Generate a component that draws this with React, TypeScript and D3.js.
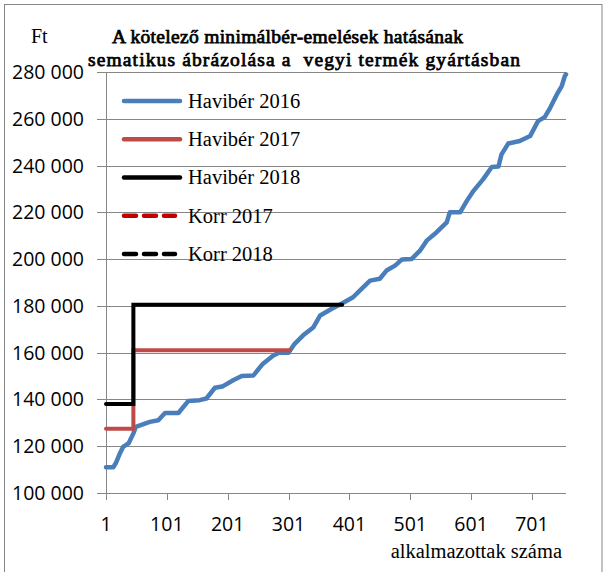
import React from 'react';
import * as d3 from 'd3';

// Havibér 2016: employees sorted by monthly wage (index, Ft)
const employeeIdx = [1, 13, 17, 24, 29, 38, 46, 50, 73, 87, 98, 120, 136, 155, 166, 180, 192, 210, 224, 243, 259, 276, 285, 301, 311, 325, 342, 353, 372, 388, 407, 421, 435, 451, 462, 476, 487, 503, 517, 528, 544, 561, 566, 583, 594, 605, 621, 635, 646, 651, 662, 681, 698, 711, 722, 731, 742, 750, 755, 757];
const wage2016 = [111000, 111000, 112700, 117000, 119700, 121200, 125500, 128300, 130400, 131100, 134200, 134200, 139300, 139700, 140400, 145000, 145500, 148200, 150000, 150200, 155300, 158800, 160000, 160000, 163800, 167400, 170900, 175900, 178800, 180900, 183700, 187300, 190800, 191600, 195100, 197200, 199800, 200000, 203600, 207900, 211400, 215700, 220000, 220000, 224900, 229200, 234200, 239400, 239600, 244800, 249400, 250500, 252600, 259000, 260700, 264700, 270400, 274000, 278200, 279000];

// Havibér 2017 / 2018 step lines
const havi2017Idx = [1, 46, 46, 303];
const havi2017Val = [127500, 127500, 161000, 161000];
const havi2018Idx = [1, 46, 46, 389];
const havi2018Val = [138000, 138000, 180500, 180500];

const employeeCount = 757;
const yTicks = [100000, 120000, 140000, 160000, 180000, 200000, 220000, 240000, 260000, 280000];
const xTicks = [1, 101, 201, 301, 401, 501, 601, 701];

const legendLabels = ['Havibér 2016', 'Havibér 2017', 'Havibér 2018', 'Korr 2017', 'Korr 2018'];
const legendColors = ['#4A7EBB', '#BE4B48', '#000000', '#C00000', '#000000'];
const legendDashed = [false, false, false, true, true];

const titleLine1 = 'A kötelező minimálbér-emelések hatásának';
const titleLine2 = 'sematikus ábrázolása a  vegyi termék gyártásban';
const yUnit = 'Ft';
const xTitle = 'alkalmazottak száma';

export default function App() {
  const W = 604, H = 572;
  const x = d3.scaleLinear().domain([1, employeeCount]).range([106, 566]);
  const y = d3.scaleLinear().domain([100000, 280000]).range([493, 72]);
  const line = d3.line<[number, number]>().x(d => x(d[0])).y(d => y(d[1]));
  const fmt = (v: number) => d3.format(',')(v).replace(/,/g, ' ');

  const blue = line(employeeIdx.map((e, i) => [e, wage2016[i]] as [number, number])) || '';
  const red = line(havi2017Idx.map((e, i) => [e, havi2017Val[i]] as [number, number])) || '';
  const black = line(havi2018Idx.map((e, i) => [e, havi2018Val[i]] as [number, number])) || '';

  const sans: React.CSSProperties = { fontFamily: 'Open Sans, sans-serif', fontSize: '19.5px' };
  const serif = 'Liberation Serif, Tinos, serif';
  const grid = '#868686';
  const legendY = d3.scaleLinear().domain([0, 4]).range([101, 254]);
  const boldTitle: React.CSSProperties = { fontFamily: serif, fontSize: '19.5px', whiteSpace: 'pre' };

  return (
    <svg width={W} height={H} style={{ position: 'absolute', left: 0, top: 0 }} xmlns="http://www.w3.org/2000/svg">
      <rect x={0} y={0} width={W} height={H} fill="#fff" />
      <rect x={4.5} y={4.5} width={597.5} height={580} fill="none" stroke={grid} strokeWidth={1} />

      {/* gridlines */}
      {yTicks.map(t => (
        <line key={t} x1={97} x2={566} y1={Math.round(y(t)) + 0.5} y2={Math.round(y(t)) + 0.5} stroke={grid} strokeWidth={1} />
      ))}
      {/* y axis */}
      <line x1={106.5} x2={106.5} y1={Math.round(y(280000)) + 0.5} y2={Math.round(y(100000)) + 0.5} stroke={grid} strokeWidth={1} />
      {/* x ticks */}
      {xTicks.map(t => (
        <line key={t} x1={Math.round(x(t)) + 0.5} x2={Math.round(x(t)) + 0.5} y1={Math.round(y(100000))} y2={Math.round(y(100000)) + 7} stroke={grid} strokeWidth={1} />
      ))}

      {/* y tick labels */}
      {yTicks.map(t => (
        <text key={t} x={84} y={y(t)} dy="0.36em" textAnchor="end" style={sans} fill="#000">{fmt(t)}</text>
      ))}
      {/* x tick labels */}
      {xTicks.map(t => (
        <text key={t} x={x(t)} y={531} textAnchor="middle" style={sans} fill="#000">{t}</text>
      ))}

      {/* series */}
      <path d={blue} fill="none" stroke="#4A7EBB" strokeWidth={4.5} strokeLinejoin="round" strokeLinecap="round" />
      <path d={red} fill="none" stroke="#BE4B48" strokeWidth={4} strokeLinejoin="miter" strokeLinecap="round" />
      <path d={black} fill="none" stroke="#000" strokeWidth={4} strokeLinejoin="miter" strokeLinecap="round" />

      {/* legend */}
      {legendLabels.map((lab, i) => (
        <g key={lab}>
          <line x1={124} x2={legendDashed[i] ? 175 : 180} y1={legendY(i)} y2={legendY(i)} stroke={legendColors[i]} strokeWidth={4.5}
            strokeLinecap="round" strokeDasharray={legendDashed[i] ? '12 8' : undefined} />
          <text x={188} y={legendY(i)} dy="0.33em" style={{ fontFamily: serif, fontSize: '20.5px' }} fill="#000">{lab}</text>
        </g>
      ))}

      {/* titles (bold simulated with a stroke, since the serif bold face is not installed) */}
      <text x={31} y={43} style={{ fontFamily: serif, fontSize: '20px' }} fill="#000">{yUnit}</text>
      <text x={112} y={43} style={boldTitle} fill="#000" stroke="#000" strokeWidth={0.75} textLength={351} lengthAdjust="spacing">{titleLine1}</text>
      <text x={88} y={66} style={boldTitle} fill="#000" stroke="#000" strokeWidth={0.75} textLength={432} lengthAdjust="spacing">{titleLine2}</text>
      <text x={562} y={558} textAnchor="end" style={{ fontFamily: serif, fontSize: '20.5px' }} fill="#000">{xTitle}</text>
    </svg>
  );
}
